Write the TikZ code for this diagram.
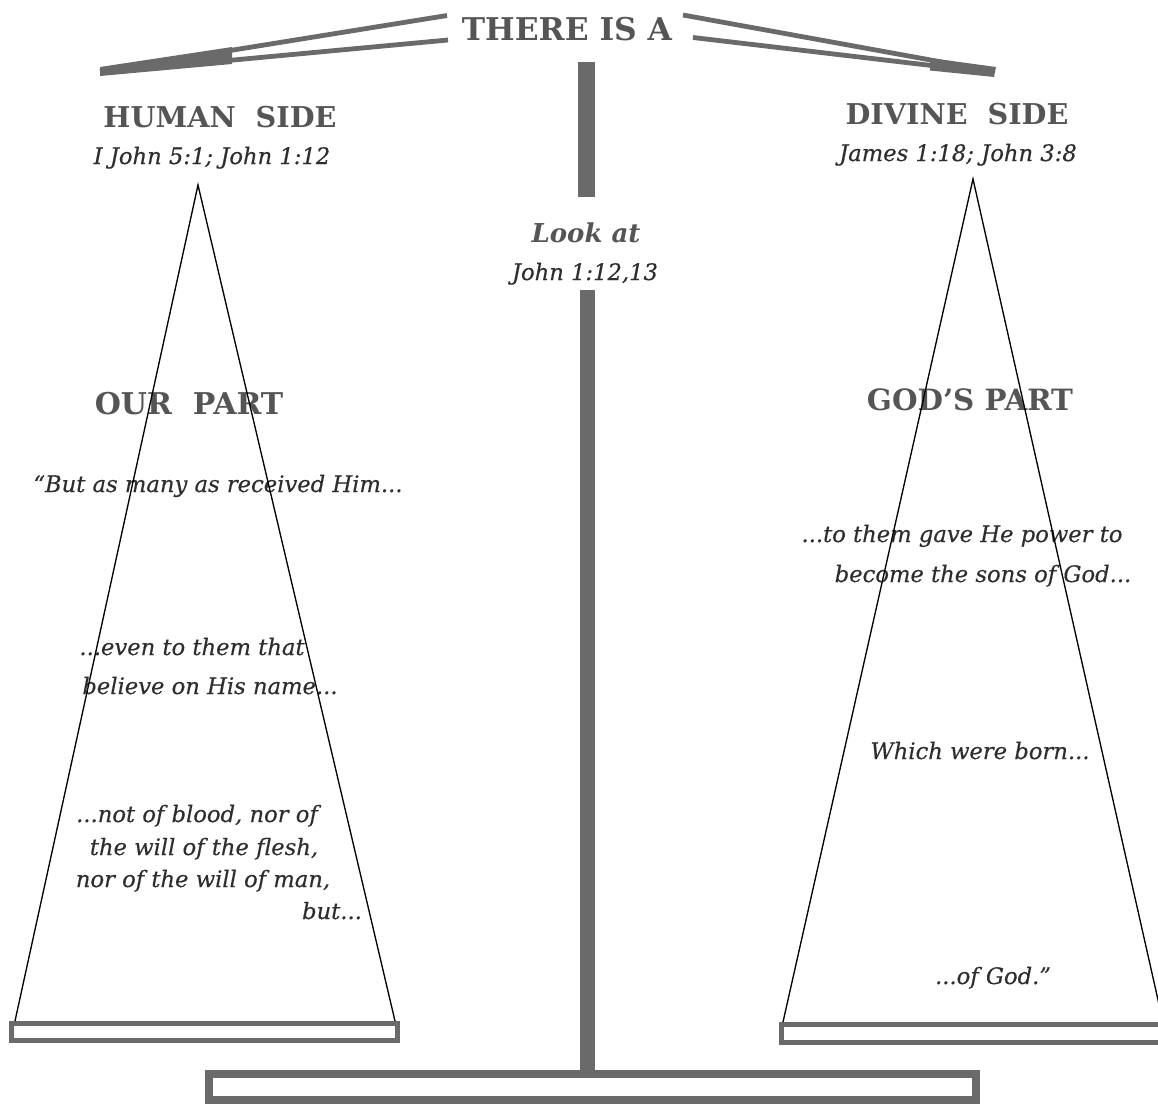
\documentclass[tikz,border=0pt]{standalone}
\usepackage{fontspec}
\setmainfont{DejaVu Serif}[ItalicFeatures={FakeBold=0.4}]
\definecolor{beamgray}{HTML}{6A6A6A}
\definecolor{txtgray}{HTML}{2E2E2E}
\definecolor{headgray}{HTML}{555555}
\begin{document}
\begin{tikzpicture}[x=0.75pt,y=-0.75pt,
  bar/.style={draw=beamgray, line width=3.6pt},
  head/.style={anchor=base, inner sep=0pt, text=headgray, font=\fontsize{21.5}{24}\selectfont\bfseries},
  verse/.style={anchor=base, inner sep=0pt, text=txtgray, font=\fontsize{17}{20}\selectfont\itshape},
  pan/.style={draw=beamgray, line width=3.75pt},
  tri/.style={draw=black, line width=1pt, line join=miter}]
\useasboundingbox (0,0) rectangle (1158,1104);

% --- top beam ---
\fill[beamgray] (100,67) -- (232,47) -- (232,64) -- (100,76) -- cycle;
\coordinate (bl1) at (100,71.5);
\coordinate (bl2) at (447,15.5);
\coordinate (bl3) at (228,60.5);
\coordinate (bl4) at (448,40);
\draw[bar] (bl1) -- (bl2);
\draw[bar] (bl3) -- (bl4);
\fill[beamgray] (930,58) -- (996,67) -- (994,77) -- (930,70.5) -- cycle;
\coordinate (br1) at (683,15);
\coordinate (br2) at (994,71.5);
\coordinate (br3) at (693,37.5);
\coordinate (br4) at (940,66.5);
\draw[bar] (br1) -- (br2);
\draw[bar] (br3) -- (br4);

\node[head, font=\fontsize{23.5}{26}\selectfont\bfseries] (there) at (567,40) {THERE IS A};

% --- central post ---
\fill[beamgray] (578,62) rectangle (595,197);
\fill[beamgray] (580,290) rectangle (595,1070);

% --- base and pans ---
\draw[pan, line width=6pt] (209,1074) rectangle (976,1100);
\draw[pan] (11.5,1023.5) rectangle (397.5,1040.5);
\draw[pan] (781.5,1024.5) rectangle (1180,1042.5);

% --- headings ---
\node[head] (human) at (220,127) {HUMAN\ \ SIDE};
\node[verse] (humanref) at (212,164) {I John 5:1; John 1:12};
\node[head] (divine) at (957,124) {DIVINE\ \ SIDE};
\node[verse] (divineref) at (958,161) {James 1:18; John 3:8};
\node[head, font=\fontsize{19.5}{22}\selectfont\bfseries\itshape] (lookat) at (586,242) {Look at};
\node[verse] (lookref) at (585,280) {John 1:12,13};

\node[head, font=\fontsize{22.5}{26}\selectfont\bfseries] (ourpart) at (189,414) {OUR\ \ PART};
\node[head, font=\fontsize{22}{26}\selectfont\bfseries] (godspart) at (970,410) {GOD’S PART};

% --- left verses ---
\node[verse] (q1) at (218,492) {“But as many as received Him...};
\node[verse] (q2) at (192,655) {...even to them that};
\node[verse] (q3) at (210,694) {believe on His name...};
\node[verse] (q4) at (197,822) {...not of blood, nor of};
\node[verse] (q5) at (204,855) {the will of the flesh,};
\node[verse] (q6) at (203,887) {nor of the will of man,};
\node[verse] (q7) at (332,919) {but...};

% --- right verses ---
\node[verse] (r1) at (962,542) {...to them gave He power to};
\node[verse] (r2) at (983,582) {become the sons of God...};
\node[verse] (r3) at (980,759) {Which were born...};
\node[verse] (r4) at (993,984) {...of God.”};

% --- triangles ---
\coordinate (ltop) at (198,185);
\coordinate (lbl) at (15,1021);
\coordinate (lbr) at (395,1021);
\draw[tri] (lbl) -- (ltop) -- (lbr);
\coordinate (rtop) at (973,179);
\coordinate (rbl) at (783,1022);
\coordinate (rbr) at (1163,1022);
\draw[tri] (rbl) -- (rtop) -- (rbr);
\end{tikzpicture}
\end{document}
